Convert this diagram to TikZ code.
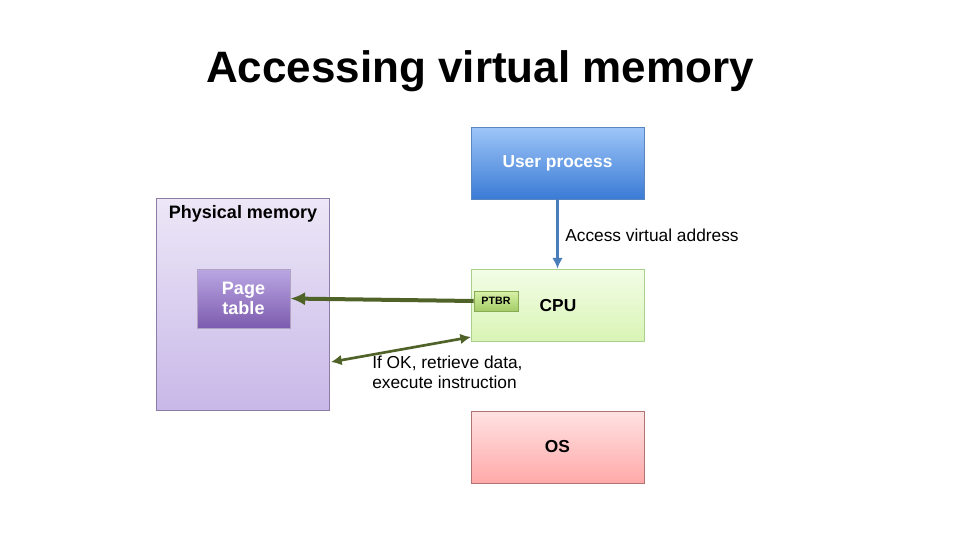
\documentclass[tikz,border=0pt]{standalone}
\usepackage{fontspec}
\setmainfont{Liberation Sans}
\usetikzlibrary{arrows.meta,calc}

\definecolor{olivearrow}{HTML}{4F6228}
\definecolor{bluearrow}{HTML}{4A7EBB}
\definecolor{usertop}{HTML}{9EC5F8}
\definecolor{userbot}{HTML}{3A7BD5}
\definecolor{userline}{HTML}{5A86C0}
\definecolor{phystop}{HTML}{EDE7F7}
\definecolor{physbot}{HTML}{C8B8E8}
\definecolor{physline}{HTML}{8E7CA8}
\definecolor{pagetop}{HTML}{BBA7E4}
\definecolor{pagebot}{HTML}{7C5BAE}
\definecolor{cputop}{HTML}{F3FDE7}
\definecolor{cpubot}{HTML}{D9F4B5}
\definecolor{cpuline}{HTML}{A9D18E}
\definecolor{ptbrtop}{HTML}{D8F2A6}
\definecolor{ptbrbot}{HTML}{A3CC68}
\definecolor{ptbrline}{HTML}{88AA55}
\definecolor{ostop}{HTML}{FFE2E2}
\definecolor{osbot}{HTML}{FFA9A9}
\definecolor{osline}{HTML}{B07272}

\tikzset{
  box/.style={draw, line width=0.6pt, inner sep=0pt, minimum width=129.75pt, minimum height=54pt},
  lbl/.style={font=\fontsize{13}{15}\selectfont, inner sep=0pt},
}

\begin{document}
\begin{tikzpicture}[x=0.75pt,y=-0.75pt]
\useasboundingbox (0,0) rectangle (960,540);

\node[font=\fontsize{33}{38}\selectfont\bfseries] (title) at (480,71) {Accessing virtual memory};

\node[box, draw=userline, top color=usertop, bottom color=userbot, text=white, font=\fontsize{13}{15}\selectfont\bfseries] (user) at (557.5,163) {User process};
\node[box, draw=physline, top color=phystop, bottom color=physbot, minimum height=159pt] (phys) at (242.5,304) {};
\node[lbl, font=\fontsize{13.5}{15}\selectfont\bfseries, anchor=north] (physlbl) at (243,205) {Physical memory};
\node[box, draw=physline!70, top color=pagetop, bottom color=pagebot, text=white, minimum width=69.75pt, minimum height=44.25pt, align=center, font=\fontsize{13.5}{15}\selectfont\bfseries] (page) at (243.5,298.5) {Page\\table};
\node[box, draw=cpuline, top color=cputop, bottom color=cpubot] (cpu) at (557.5,305) {};
\node[lbl, font=\fontsize{13}{15}\selectfont\bfseries] (cpulbl) at (558,306) {CPU};
\node[box, draw=ptbrline, top color=ptbrtop, bottom color=ptbrbot, minimum width=33pt, minimum height=15pt, font=\fontsize{8}{9}\selectfont\bfseries] (ptbr) at (496,301) {PTBR};
\node[box, draw=osline, top color=ostop, bottom color=osbot, font=\fontsize{13}{15}\selectfont\bfseries] (os) at (557.5,447) {OS};

\node[lbl, anchor=west] (access) at (565,235) {Access virtual address};
\node[lbl, anchor=north west, align=left] (oklbl) at (372,356) {If OK, retrieve data,\\execute instruction};

\coordinate (okstart) at (471,337);
\coordinate (okend) at (331,362);

\draw[bluearrow, line width=2.2pt, -{Latex[length=8pt,width=8pt]}] (user.south) -- (cpu.north);
\draw[olivearrow, line width=3pt, -{Latex[length=11pt,width=10pt]}] (ptbr.west) -- (page.east);
\draw[olivearrow, line width=2pt, {Latex[length=8pt,width=8pt]}-{Latex[length=8pt,width=8pt]}] (okstart) -- (okend);
\end{tikzpicture}
\end{document}
